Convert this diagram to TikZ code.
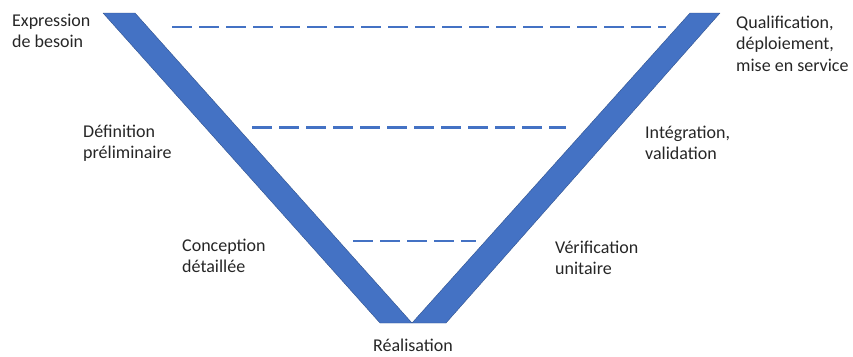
\documentclass[tikz,border=0pt]{standalone}
\usepackage{fontspec}
\setmainfont{Carlito}
\definecolor{vblue}{HTML}{4472C4}
\definecolor{vedge}{HTML}{2F528F}
\begin{document}
\begin{tikzpicture}[x=1pt,y=-1pt,font=\fontsize{18}{21.5}\selectfont, line join=round]
	\useasboundingbox (0,0) rectangle (853,356);
	\tikzset{band/.style={fill=vblue,draw=vedge,line width=0.4pt},
		phase/.style={align=left,anchor=base west,inner sep=0pt,text=black!85},
		level/.style={vblue,line width=2.5pt,dash pattern=on 20pt off 7pt}}
	% the two arms of the V
	\draw[band] (103,13)--(135,13)--(412,323)--(380,323)--cycle;
	\draw[band] (690,13)--(720,13)--(446,323)--(412,323)--cycle;
	% levels
	\foreach \y/\a/\b in {27/172/666, 127.5/252/566, 241/353/476}{
		\draw[level] (\a,\y)--(\b,\y);}
	% phases (base = last line)
	\node[phase] (besoin) at (12,47.5) {Expression\\de besoin};
	\node[phase] (prelim) at (83,158.5) {Définition\\préliminaire};
	\node[phase] (detail) at (182,272.5) {Conception\\détaillée};
	\node[phase] (qualif) at (736,71) {Qualification,\\déploiement,\\mise en service};
	\node[phase] (integr) at (645,159.5) {Intégration,\\validation};
	\node[phase] (verif) at (555,274.5) {Vérification\\unitaire};
	\node[phase,anchor=base] (real) at (413,351.5) {Réalisation};
\end{tikzpicture}
\end{document}
